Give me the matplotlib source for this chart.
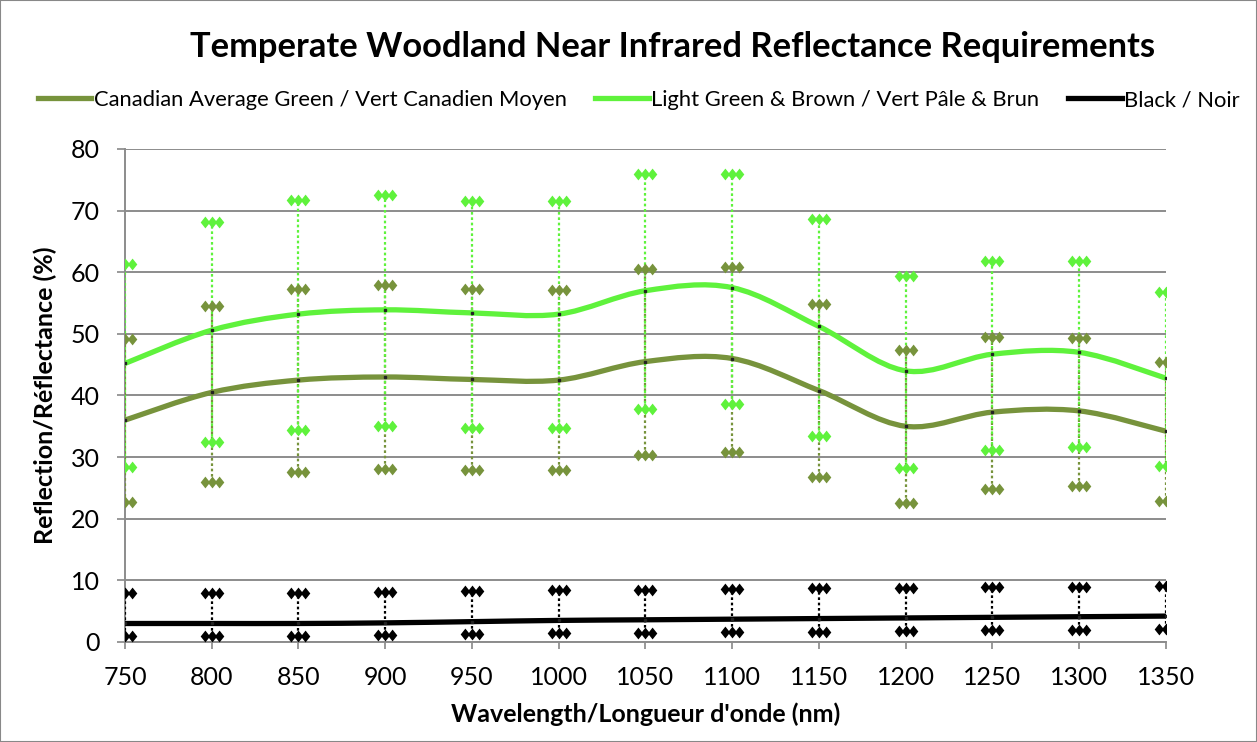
import numpy as np
import matplotlib.pyplot as plt
from matplotlib.path import Path
from matplotlib.patches import PathPatch, Rectangle
from matplotlib.lines import Line2D

plt.rcParams['font.family'] = ['Lato', 'DejaVu Sans']

# Wavelengths (nm)
wavelengths = [750, 800, 850, 900, 950, 1000, 1050, 1100, 1150, 1200, 1250, 1300, 1350]

# Canadian Average Green: mean, upper and lower limits
olive_mean = [36.0, 40.5, 42.5, 43.0, 42.6, 42.5, 45.5, 46.0, 40.8, 35.0, 37.3, 37.5, 34.2]
olive_high = [49.1, 54.6, 57.3, 58.0, 57.2, 57.1, 60.6, 60.8, 54.9, 47.4, 49.5, 49.4, 45.4]
olive_low = [22.7, 26.0, 27.6, 28.1, 27.9, 27.9, 30.3, 30.9, 26.7, 22.5, 24.9, 25.3, 22.8]

# Light Green & Brown
green_mean = [45.2, 50.6, 53.2, 53.9, 53.4, 53.2, 57.0, 57.5, 51.2, 44.0, 46.7, 47.0, 42.8]
green_high = [61.3, 68.2, 71.7, 72.5, 71.6, 71.5, 75.9, 76.0, 68.7, 59.4, 61.9, 61.8, 56.8]
green_low = [28.4, 32.5, 34.4, 35.1, 34.8, 34.8, 37.8, 38.6, 33.4, 28.2, 31.1, 31.6, 28.5]

# Black
black_mean = [3.0, 3.0, 3.0, 3.1, 3.3, 3.5, 3.6, 3.7, 3.8, 3.9, 4.0, 4.1, 4.2]
black_high = [8.0, 8.0, 8.0, 8.1, 8.3, 8.4, 8.5, 8.6, 8.7, 8.8, 8.9, 9.0, 9.1]
black_low = [1.0, 1.0, 1.0, 1.1, 1.3, 1.4, 1.5, 1.6, 1.7, 1.8, 1.9, 2.0, 2.1]

labels = ["Canadian Average Green / Vert Canadien Moyen",
          "Light Green & Brown / Vert P\u00e2le & Brun",
          "Black / Noir"]
colors = ["#77933C", "#5FF23C", "#000000"]


def smooth_path(xs, ys):
    # Catmull-Rom style Bezier path through the points (like Excel smoothed lines)
    pts = np.column_stack([xs, ys]).astype(float)
    ext = np.vstack([pts[0], pts, pts[-1]])
    verts = [pts[0]]
    codes = [Path.MOVETO]
    for i in range(len(pts) - 1):
        p0, p1, p2, p3 = ext[i], ext[i + 1], ext[i + 2], ext[i + 3]
        verts += [p1 + (p2 - p0) / 6, p2 - (p3 - p1) / 6, p2]
        codes += [Path.CURVE4] * 3
    return Path(verts, codes)


# three side-by-side diamonds used as error bar caps
d = []
for cx in (-0.9, 0.0, 0.9):
    d += [(cx - 0.6, 0), (cx, 0.75), (cx + 0.6, 0), (cx, -0.75), (cx - 0.6, 0)]
cap_codes = [Path.MOVETO, Path.LINETO, Path.LINETO, Path.LINETO, Path.CLOSEPOLY] * 3
cap_marker = Path(d, cap_codes)

fig = plt.figure(figsize=(12.57, 7.42), dpi=100)
ax = fig.add_axes([0.0994, 0.1348, 0.8282, 0.6644])

series = [(olive_mean, olive_high, olive_low),
          (green_mean, green_high, green_low),
          (black_mean, black_high, black_low)]

# error bars first (olive, then green on top)
for (mean, high, low), c in zip(series, colors):
    ax.vlines(wavelengths, low, high, colors=c, linestyles=(0, (1.2, 1.2)), lw=1.6, zorder=3)
for (mean, high, low), c in zip(series, colors):
    ax.scatter(wavelengths, high, marker=cap_marker, s=290, color=c, zorder=4, linewidths=0)
    ax.scatter(wavelengths, low, marker=cap_marker, s=290, color=c, zorder=4, linewidths=0)

# smoothed mean lines
for (mean, high, low), c in zip(series, colors):
    ax.add_patch(PathPatch(smooth_path(wavelengths, mean), fill=False, edgecolor=c,
                           lw=3.8, zorder=5, capstyle='butt'))
    ax.plot(wavelengths, mean, ls='none', marker='s', ms=2, color='#222222', zorder=6)

ax.set_xlim(750, 1350)
ax.set_ylim(0, 80)
ax.set_xticks(wavelengths)
ax.set_yticks(np.arange(0, 81, 10))
ax.tick_params(axis='both', labelsize=18, color='#888888', width=1.2)
ax.tick_params(axis='x', length=5, pad=12)
ax.tick_params(axis='y', length=6, pad=12)
ax.grid(axis='y', color='#8c8c8c', lw=1.4, zorder=0)
ax.set_axisbelow(True)
for s in ['top', 'right']:
    ax.spines[s].set_visible(False)
for s in ['left', 'bottom']:
    ax.spines[s].set_color('#8c8c8c')
    ax.spines[s].set_linewidth(1.4)

ax.set_xlabel("Wavelength/Longueur d'onde (nm)", fontsize=18, fontweight='bold', labelpad=10)
ax.set_ylabel("Reflection/R\u00e9flectance (%)", fontsize=18, fontweight='bold', labelpad=10)

fig.text(0.535, 0.936, "Temperate Woodland Near Infrared Reflectance Requirements",
         ha='center', va='center', fontsize=24.8, fontweight='bold')

handles = [Line2D([], [], color=c, lw=3.8) for c in colors]
fig.legend(handles, labels, loc='center', bbox_to_anchor=(0.508, 0.865), ncol=3,
           frameon=False, fontsize=15.8, handlelength=2.45, handletextpad=0.1,
           columnspacing=1.3)

fig.add_artist(Rectangle((0, 0), 1, 1, transform=fig.transFigure, fill=False,
                         edgecolor='#888888', lw=1.5))

fig.savefig("out.png", dpi=100)
